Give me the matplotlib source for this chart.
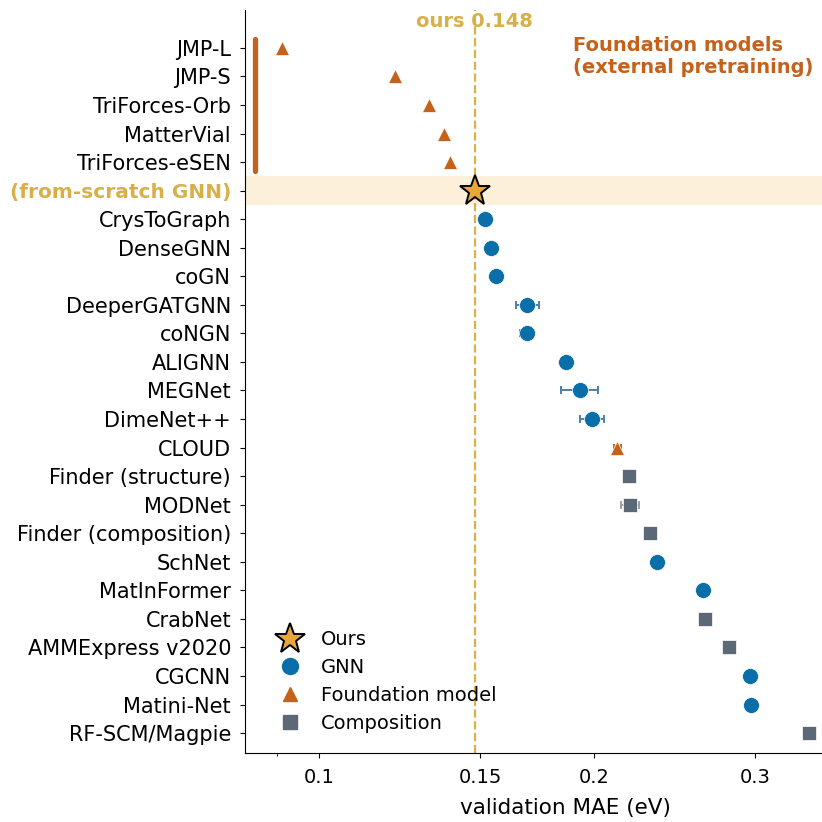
import matplotlib
matplotlib.use("Agg")
import matplotlib.pyplot as plt
import matplotlib.transforms as mtransforms
import numpy as np

# data (validation MAE, eV)
models = ["JMP-L", "JMP-S", "TriForces-Orb", "MatterVial", "TriForces-eSEN",
          "(from-scratch GNN)", "CrysToGraph", "DenseGNN", "coGN", "DeeperGATGNN",
          "coNGN", "ALIGNN", "MEGNet", "DimeNet++", "CLOUD", "Finder (structure)",
          "MODNet", "Finder (composition)", "SchNet", "MatInFormer", "CrabNet",
          "AMMExpress v2020", "CGCNN", "Matini-Net", "RF-SCM/Magpie"]
mae = [0.091, 0.121, 0.132, 0.137, 0.139,
       0.148, 0.152, 0.154, 0.156, 0.169,
       0.169, 0.186, 0.193, 0.199, 0.212, 0.218,
       0.219, 0.230, 0.234, 0.263, 0.264,
       0.281, 0.296, 0.297, 0.343]
err = [0, 0, 0, 0, 0,
       0, 0, 0, 0, 0.005,
       0.003, 0, 0.009, 0.006, 0.002, 0,
       0.005, 0, 0, 0, 0,
       0.004, 0, 0, 0]
kind = ["found", "found", "found", "found", "found",
        "ours", "gnn", "gnn", "gnn", "gnn",
        "gnn", "gnn", "gnn", "gnn", "found", "comp",
        "comp", "comp", "gnn", "gnn", "comp",
        "comp", "gnn", "gnn", "comp"]
ours_mae = 0.148

BLUE = "#0a6fa8"
ORANGE = "#c4621b"
GRAY = "#5d6877"
GOLD = "#e8a838"
GOLD_TXT = "#d8b04a"

style = {
    "gnn": dict(marker="o", color=BLUE, ms=11.5, ecol="#4f7fa6"),
    "found": dict(marker="^", color=ORANGE, ms=9.5, ecol=ORANGE),
    "comp": dict(marker="s", color=GRAY, ms=10.5, ecol="#9aa1aa"),
}

fig = plt.figure(figsize=(8.22, 8.22), dpi=100)
# the reference is cropped on the right, so the axes runs past the figure edge
ax = fig.add_axes([0.298, 0.0839, 0.779, 0.904])

y = np.arange(len(models))

ax.axhspan(4.5, 5.5, color="#fcf0db", lw=0, zorder=0)
ax.axvline(ours_mae, color="#dcb044", ls="--", lw=1.6, zorder=1)

for i, (m, e, k) in enumerate(zip(mae, err, kind)):
    if k == "ours":
        continue
    s = style[k]
    if e > 0:
        ax.errorbar(m, y[i], xerr=e, fmt="none", ecolor=s["ecol"], elinewidth=1.4,
                    capsize=3, capthick=1.4, zorder=2)
    ax.plot(m, y[i], s["marker"], color=s["color"], ms=s["ms"], mec="white",
            mew=0.5, zorder=3)

i_ours = kind.index("ours")
ax.plot(mae[i_ours], y[i_ours], marker="*", color=GOLD, ms=23, mec="black",
        mew=1.4, ls="none", zorder=4)

# legend handles
h = [ax.plot([], [], "*", color=GOLD, ms=23, mec="black", mew=1.4, ls="none")[0],
     ax.plot([], [], "o", color=BLUE, ms=11.5, ls="none")[0],
     ax.plot([], [], "^", color=ORANGE, ms=9.5, ls="none")[0],
     ax.plot([], [], "s", color=GRAY, ms=10.5, ls="none")[0]]
ax.legend(h, ["Ours", "GNN", "Foundation model", "Composition"], loc="lower left",
          frameon=False, fontsize=14, bbox_to_anchor=(0.013, 0.004), handletextpad=0.6,
          labelspacing=0.45)

ax.set_xscale("log")
ax.set_xlim(0.083, 0.416)
ax.set_xticks([0.1, 0.15, 0.2, 0.3])
ax.set_xticklabels(["0.1", "0.15", "0.2", "0.3"])
ax.xaxis.set_minor_formatter(matplotlib.ticker.NullFormatter())
ax.set_ylim(len(models) - 0.3, -1.33)
ax.set_yticks(y)
ax.set_yticklabels(models)
ax.tick_params(axis="y", labelsize=15, pad=6.5)
ax.tick_params(axis="x", labelsize=14, pad=7)
for t in ax.get_yticklabels():
    if t.get_text() == "(from-scratch GNN)":
        t.set_color(GOLD_TXT)
        t.set_fontweight("bold")
        t.set_fontsize(14.5)
ax.set_xlabel("validation MAE (eV)", fontsize=15.5, labelpad=8)
ax.spines["top"].set_visible(False)
ax.spines["right"].set_visible(False)

# bracket for the foundation models
tr = mtransforms.blended_transform_factory(ax.transAxes, ax.transData)
ax.plot([0.0156, 0.0156], [-0.3, 4.3], color=ORANGE, lw=3.8, solid_capstyle="round",
        transform=tr, clip_on=False)

ax.text(ours_mae, -0.91, "ours 0.148", color=GOLD_TXT, fontsize=14, fontweight="bold",
        ha="center", va="center")
ax.text(0.1896, -0.42, "Foundation models\n(external pretraining)",
        color=ORANGE, fontsize=14, fontweight="bold", ha="left", va="top")

fig.savefig("out.png", dpi=100)
